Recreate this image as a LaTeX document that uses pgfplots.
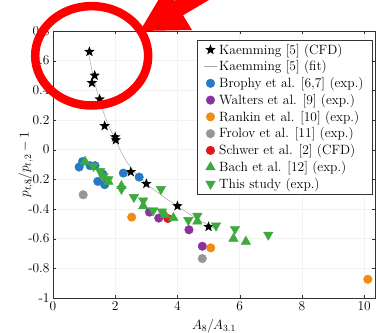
\RequirePackage{fix-cm}
\documentclass[border=0pt]{standalone}
\usepackage{pgfplots}
\pgfplotsset{compat=1.18}
\definecolor{cblue}{RGB}{40,120,195}
\definecolor{cpurple}{RGB}{140,50,160}
\definecolor{corange}{RGB}{240,140,20}
\definecolor{cgray}{RGB}{150,150,150}
\definecolor{cred}{RGB}{230,20,20}
\definecolor{cgreen}{RGB}{60,170,60}
\pgfdeclareplotmark{fstar}{%
  \pgfpathmoveto{\pgfpointpolar{90}{\pgfplotmarksize}}%
  \pgfpathlineto{\pgfpointpolar{126}{0.42\pgfplotmarksize}}%
  \pgfpathlineto{\pgfpointpolar{162}{\pgfplotmarksize}}%
  \pgfpathlineto{\pgfpointpolar{198}{0.42\pgfplotmarksize}}%
  \pgfpathlineto{\pgfpointpolar{234}{\pgfplotmarksize}}%
  \pgfpathlineto{\pgfpointpolar{270}{0.42\pgfplotmarksize}}%
  \pgfpathlineto{\pgfpointpolar{306}{\pgfplotmarksize}}%
  \pgfpathlineto{\pgfpointpolar{342}{0.42\pgfplotmarksize}}%
  \pgfpathlineto{\pgfpointpolar{18}{\pgfplotmarksize}}%
  \pgfpathlineto{\pgfpointpolar{54}{0.42\pgfplotmarksize}}%
  \pgfpathclose
  \pgfusepathqfill}
\begin{document}
\begin{tikzpicture}
\begin{axis}[
  at={(0,0)}, anchor=south west,
  scale only axis, width=322bp, height=267bp,
  xmin=0, xmax=10.35, ymin=-1, ymax=0.8,
  xtick={0,2,4,6,8,10},
  ytick={-1,-0.8,-0.6,-0.4,-0.2,0,0.2,0.4,0.6,0.8},
  yticklabels={-1,-0.8,-0.6,-0.4,-0.2,0,0.2,0.4,0.6,0.8},
  tick align=inside, major tick length=3bp,
  grid=major, grid style={gray!10},
  axis line style={black!80}, tick style={black!80},
  font=\fontsize{13.5}{15}\selectfont,
  ticklabel style={font=\fontsize{13.5}{15}\selectfont},
  xlabel={$A_8/A_{3.1}$},
  ylabel={$p_{t,8}/p_{t,2}-1$},
  xlabel style={at={(axis description cs:0.5,-0.105)}, anchor=center},
  ylabel style={at={(axis description cs:-0.085,0.5)}, anchor=center},
  legend style={at={(rel axis cs:0.993,0.967)}, anchor=north east,
    draw=black!80, fill=white, font=\fontsize{13.5}{15}\selectfont,
    row sep=1.2bp, inner xsep=7bp, inner ysep=2bp},
  legend image code/.code={%
    \draw[mark repeat=2,mark phase=2,#1] plot coordinates {(0bp,0bp) (6.5bp,0bp) (13bp,0bp)};},
  legend cell align=left,
]
\addplot[only marks, mark=fstar, mark size=5.5bp, black] table {
1.17 0.66
1.25 0.45
1.34 0.50
1.50 0.34
1.66 0.16
2.00 0.085
2.02 0.065
2.50 -0.15
3.00 -0.23
4.00 -0.38
5.00 -0.52
};
\addlegendentry{Kaemming [5] (CFD)}
\addplot[gray!70, line width=0.5bp, smooth, no marks] table {
1.15 0.64
1.3 0.49
1.5 0.33
1.75 0.18
2.0 0.07
2.25 -0.04
2.5 -0.12
2.75 -0.18
3.0 -0.23
3.5 -0.31
4.0 -0.38
4.5 -0.45
5.0 -0.51
5.3 -0.545
};
\addlegendentry{Kaemming [5] (fit)}
\addplot[only marks, mark=*, mark size=4.3bp, cblue, mark options={draw=cblue, fill=cblue}] table {
0.84 -0.117
0.95 -0.08
1.19 -0.108
1.35 -0.108
1.60 -0.164
1.44 -0.214
1.66 -0.236
2.26 -0.158
2.77 -0.185
};
\addlegendentry{Brophy et al. [6,7] (exp.)}
\addplot[only marks, mark=*, mark size=4.3bp, cpurple] table {
3.10 -0.421
3.40 -0.461
4.37 -0.54
4.80 -0.651
};
\addlegendentry{Walters et al. [9] (exp.)}
\addplot[only marks, mark=*, mark size=4.3bp, corange] table {
2.53 -0.455
5.07 -0.662
10.12 -0.874
};
\addlegendentry{Rankin et al. [10] (exp.)}
\addplot[only marks, mark=*, mark size=4.3bp, cgray] table {
0.97 -0.304
4.80 -0.734
};
\addlegendentry{Frolov et al. [11] (exp.)}
\addplot[only marks, mark=*, mark size=4.3bp, cred] table {
3.69 -0.464
};
\addlegendentry{Schwer et al. [2] (CFD)}
\addplot[only marks, mark=triangle*, mark size=5.5bp, cgreen] table {
1.03 -0.08
1.78 -0.215
2.20 -0.245
2.90 -0.38
3.60 -0.44
3.87 -0.46
4.64 -0.484
5.80 -0.60
6.20 -0.62
};
\addlegendentry{Bach et al. [12] (exp.)}
\addplot[only marks, mark=triangle*, mark size=5.5bp, cgreen, mark options={rotate=180}] table {
1.30 -0.11
1.51 -0.145
1.62 -0.18
1.78 -0.20
2.20 -0.265
2.60 -0.32
2.90 -0.343
3.22 -0.41
3.47 -0.266
3.50 -0.418
4.35 -0.475
4.64 -0.446
5.24 -0.512
5.85 -0.535
6.92 -0.574
};
\addlegendentry{This study (exp.)}
\end{axis}
\begin{scope}[x=1bp, y=1bp]
\draw[red, line width=8.5bp] (38.7,242.2) ellipse [x radius=56.5, y radius=49.7];
\draw[red, line width=17bp] (124,289) -- (207,338);
\fill[red] (87,267) -- (113,311) -- (139,268) -- cycle;
\pgfresetboundingbox
\path[use as bounding box] (-53,-35) rectangle (324,298);
\end{scope}
\end{tikzpicture}
\end{document}
